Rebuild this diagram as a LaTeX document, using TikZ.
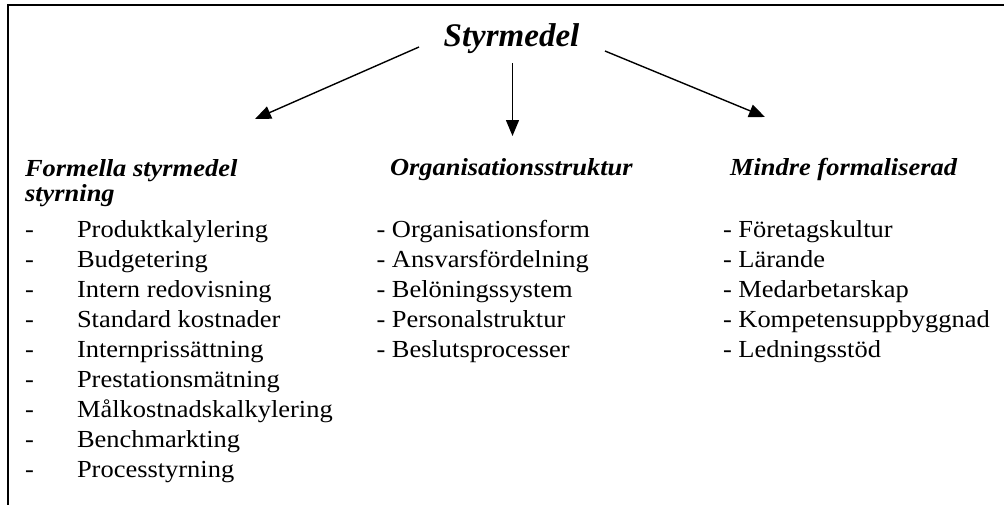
\documentclass[tikz,border=0pt]{standalone}
\usepackage{fontspec}
\setmainfont{Liberation Serif}
\newfontfamily\bodyf[FakeStretch=1.08]{Liberation Serif}
\newfontfamily\headf{Liberation Serif}
\usetikzlibrary{arrows.meta}
\begin{document}
\begin{tikzpicture}[x=1pt,y=-1pt,
  txt/.style={anchor=base west,inner sep=0pt,outer sep=0pt,font=\bodyf\fontsize{24.5}{29}\selectfont},
  hdr/.style={txt,font=\bodyf\fontsize{24.5}{29}\selectfont\bfseries\itshape},
  conn/.style={line width=1.4pt,-{Triangle[length=16pt,width=13pt]}},
  frame/.style={line width=2pt,black}]
\useasboundingbox (0,0) rectangle (1004,504);
\coordinate (fb) at (8,520);
\coordinate (fc) at (8,5);
\coordinate (fr) at (1020,5);
\draw[frame] (fb) -- (fc) -- (fr);
% title
\node[inner sep=0pt,anchor=base,font=\headf\fontsize{33}{38}\selectfont\bfseries\itshape] (title) at (511.5,46) {Styrmedel};
% arrow end points
\coordinate (l0) at (419,47);
\coordinate (l1) at (255,119);
\coordinate (m0) at (512.5,63);
\coordinate (m1) at (512.5,136);
\coordinate (r0) at (605,51);
\coordinate (r1) at (765,117);
\draw[conn] (l0) -- (l1);
\draw[conn] (m0) -- (m1);
\draw[conn] (r0) -- (r1);
% headers
\node[hdr] (h1) at (25,176) {Formella styrmedel};
\node[hdr] (h1b) at (25,201) {styrning};
\node[hdr] (h2) at (390,175) {Organisationsstruktur};
\node[hdr] (h3) at (730,175) {Mindre formaliserad};
% left column
\foreach \t [count=\i from 0] in {Produktkalylering,Budgetering,Intern redovisning,Standard kostnader,Internprissättning,Prestationsmätning,Målkostnadskalkylering,Benchmarkting,Processtyrning}{
  \node[txt] (ld\i) at (25,237+30*\i) {-};
  \node[txt] (l\i) at (77,237+30*\i) {\t};
}
% middle column
\foreach \t [count=\i from 0] in {Organisationsform,Ansvarsfördelning,Belöningssystem,Personalstruktur,Beslutsprocesser}{
  \node[txt] (m\i) at (376.5,237+30*\i) {- \t};
}
% right column
\foreach \t [count=\i from 0] in {Företagskultur,Lärande,Medarbetarskap,Kompetensuppbyggnad,Ledningsstöd}{
  \node[txt] (r\i) at (723,237+30*\i) {- \t};
}
\end{tikzpicture}
\end{document}
